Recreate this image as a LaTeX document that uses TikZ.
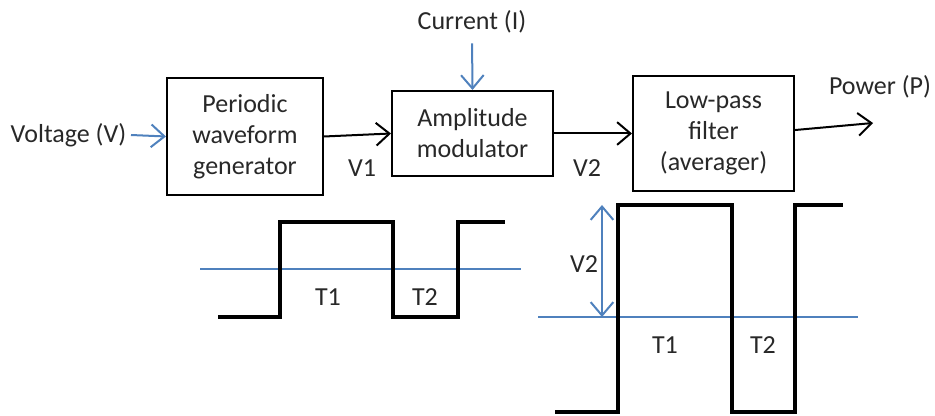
\documentclass[tikz,border=0pt]{standalone}
\usepackage{fontspec}
\setmainfont{Carlito}
\usetikzlibrary{arrows.meta,calc}
\definecolor{obl}{RGB}{79,129,189}
\definecolor{txt}{RGB}{40,40,40}
\tikzset{
  blk/.style={draw=black,line width=1.5pt,align=center,text=txt,inner sep=0pt,font=\fontsize{19.5}{23.2}\selectfont},
  lbl/.style={text=txt,font=\fontsize{19.5}{23.2}\selectfont},
  barb/.style={-{Straight Barb[length=10pt,width=17pt,line width=1.5pt]}},
  conn/.style={barb,line width=1.5pt,black},
  bconn/.style={barb,line width=1.5pt,obl},
  wave/.style={line width=2.3pt,black,line join=miter},
  avg/.style={line width=1.5pt,obl},
}
\begin{document}
\begin{tikzpicture}[x=0.75pt,y=-0.75pt]
\useasboundingbox (0,0) rectangle (935,416);
% blocks
\node[blk,minimum width=117pt,minimum height=87.75pt] (b1) at (245,136.5) {Periodic\\waveform\\generator};
\node[blk,minimum width=120.75pt,minimum height=63.75pt] (b2) at (472.5,133.5) {Amplitude\\modulator};
\node[blk,minimum width=120.75pt,minimum height=86.25pt] (b3) at (713.5,133.5) {Low-pass\\filter\\(averager)};
% labels
\node[lbl,anchor=east] (vin) at (131,135) {Voltage (V)};
\node[lbl] (cur) at (472,22) {Current (I)};
\node[lbl] (pow) at (880,87) {Power (P)};
\node[lbl] (v1) at (362,168) {V1};
\node[lbl] (v2) at (587,168) {V2};
\coordinate (pend) at (873,123);
% connectors
\draw[bconn] (vin.east) -- (b1.west);
\draw[bconn,shorten <=4pt] (cur.south) -- (b2.north);
\draw[conn] (b1.east) -- (b2.west);
\draw[conn] (b2.east) -- (b3.west);
\draw[conn] ([yshift=2.6pt]b3.east) -- (pend);
% left waveform
\draw[avg] (200,269) -- (521,269);
\draw[wave] (218,317) -- (280,317) -- (280,222) -- (393,222) -- (393,317) -- (458,317) -- (458,222) -- (505,222);
\node[lbl] (t1a) at (328,297) {T1};
\node[lbl] (t2a) at (425,297) {T2};
% right waveform
\draw[avg] (538,317) -- (858,317);
\draw[wave] (555,412) -- (618,412) -- (618,205) -- (732,205) -- (732,412) -- (795,412) -- (795,205) -- (843,205);
\coordinate (vtop) at (602,205);
\coordinate (vbot) at (602,317);
\draw[line width=1.5pt,obl,{Straight Barb[length=10pt,width=17pt,line width=1.5pt]}-{Straight Barb[length=10pt,width=17pt,line width=1.5pt]}] (vtop) -- (vbot);
\node[lbl] (v2b) at (584,264) {V2};
\node[lbl] (t1b) at (665,345) {T1};
\node[lbl] (t2b) at (763,345) {T2};
\end{tikzpicture}
\end{document}
